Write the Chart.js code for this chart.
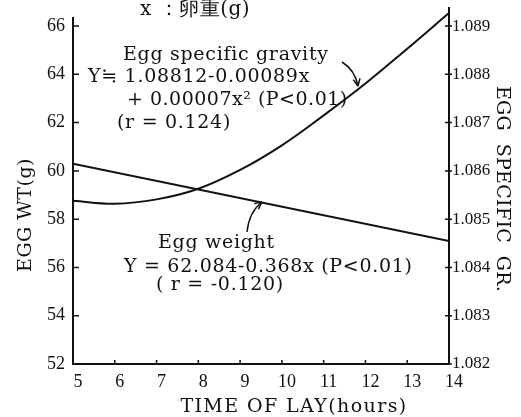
<!DOCTYPE html>
<html>
<head>
<meta charset="utf-8">
<script src="https://cdn.jsdelivr.net/npm/chart.js@4"></script>
<style>
  html, body { margin: 0; padding: 0; background: #fff; }
  canvas { display: block; }
</style>
</head>
<body>
<canvas id="chart" width="521" height="417"></canvas>
<script>
// ----------------- DATA -----------------

const hours = [5, 6, 7, 8, 9, 10, 11, 12, 13, 14];
const gravityValues = [1.08538, 1.08532, 1.08541, 1.08563, 1.08602, 1.08653, 1.08715, 1.08781, 1.08853, 1.08927];

const weightHours = [5, 14];
const weightValues = [60.3, 57.1];

const hourTicks = [5, 6, 7, 8, 9, 10, 11, 12, 13, 14];
const weightTicks = [52, 54, 56, 58, 60, 62, 64, 66];
const gravityTicks = [1.082, 1.083, 1.084, 1.085, 1.086, 1.087, 1.088, 1.089];

const serif = '"DejaVu Serif", "Liberation Serif", serif';
const tickFont = '"Liberation Serif", serif';
const ink = '#111';

// ----------------- DECORATIONS (axis lines, inner ticks, notes) -----------------

function arrowHead(ctx, x, y, angle, size) {
    ctx.beginPath();
    ctx.moveTo(x, y);
    ctx.lineTo(x - size * Math.cos(angle - 0.45), y - size * Math.sin(angle - 0.45));
    ctx.moveTo(x, y);
    ctx.lineTo(x - size * Math.cos(angle + 0.45), y - size * Math.sin(angle + 0.45));
    ctx.stroke();
}

function spaced(ctx, text, x, y, spacing) {
    ctx.letterSpacing = spacing + 'px';
    ctx.fillText(text, x, y);
    ctx.letterSpacing = '0px';
}

const decorations = {
    id: 'decorations',
    afterDraw(chart) {
        const ctx = chart.ctx;
        const area = chart.chartArea;
        const xs = chart.scales.x;
        const yl = chart.scales.yWt;
        const yr = chart.scales.yGr;
        ctx.save();
        ctx.strokeStyle = ink;
        ctx.fillStyle = ink;
        ctx.lineWidth = 2;

        // axis lines
        ctx.beginPath();
        ctx.moveTo(area.left, 17);
        ctx.lineTo(area.left, area.bottom);
        ctx.lineTo(area.right, area.bottom);
        ctx.moveTo(area.right, area.top);
        ctx.lineTo(area.right, area.bottom);
        ctx.stroke();

        // inward tick marks
        ctx.lineWidth = 1.5;
        ctx.beginPath();
        weightTicks.forEach(v => {
            const y = yl.getPixelForValue(v);
            ctx.moveTo(area.left, y);
            ctx.lineTo(area.left + 6, y);
        });
        gravityTicks.forEach(v => {
            const y = yr.getPixelForValue(v);
            ctx.moveTo(area.right - 4, y);
            ctx.lineTo(area.right + 3, y);
        });
        hourTicks.forEach(v => {
            const x = xs.getPixelForValue(v);
            ctx.moveTo(x, area.bottom);
            ctx.lineTo(x, area.bottom - 4);
        });
        ctx.stroke();

        // axis titles
        ctx.font = '19px ' + serif;
        ctx.textAlign = 'center';
        ctx.textBaseline = 'middle';
        ctx.save();
        ctx.translate(26, 215);
        ctx.rotate(-Math.PI / 2);
        spaced(ctx, 'EGG WT(g)', 0, 0, 0.5);
        ctx.restore();
        ctx.save();
        ctx.translate(502, 189);
        ctx.rotate(Math.PI / 2);
        spaced(ctx, 'EGG  SPECIFIC  GR.', 0, 0, 0.3);
        ctx.restore();
        ctx.textBaseline = 'alphabetic';
        spaced(ctx, 'TIME OF LAY(hours)', 294, 412, 1.4);

        // notes
        ctx.textAlign = 'left';
        ctx.font = '20px ' + serif;
        spaced(ctx, 'x \uFF1A\u5375\u91CD(g)', 140, 15, 0.5);
        ctx.font = '19px ' + serif;
        spaced(ctx, 'Egg specific gravity', 123, 60, 0.7);
        spaced(ctx, 'Y\u2252 1.08812-0.00089x', 88, 82, 0.7);
        spaced(ctx, '+ 0.00007x\u00B2 (P<0.01)', 127, 105, 0.5);
        spaced(ctx, '(r = 0.124)', 117, 128, 0.7);
        spaced(ctx, 'Egg weight', 158, 248, 0.7);
        spaced(ctx, 'Y = 62.084-0.368x (P<0.01)', 124, 272, 0.7);
        spaced(ctx, '( r = -0.120)', 156, 290, 0.7);

        // arrows
        ctx.lineWidth = 1.5;
        ctx.beginPath();
        ctx.moveTo(342, 62);
        ctx.quadraticCurveTo(355, 70, 358, 86);
        ctx.stroke();
        arrowHead(ctx, 358, 86, Math.atan2(15, 3), 8);

        ctx.beginPath();
        ctx.moveTo(247, 232);
        ctx.quadraticCurveTo(249, 212, 262, 202);
        ctx.stroke();
        arrowHead(ctx, 262, 202, Math.atan2(-10, 13), 8);

        ctx.restore();
    }
};

// ----------------- CHART -----------------

const ctx_chart = document.getElementById('chart').getContext('2d');
const chart = new Chart(ctx_chart, {
    type: 'line',
    data: {
        datasets: [{
            label: 'Egg specific gravity',
            data: hours.map((h, i) => ({ x: h, y: gravityValues[i] })),
            yAxisID: 'yGr',
            borderColor: ink,
            borderWidth: 2,
            pointRadius: 0,
            tension: 0.4,
            fill: false
        }, {
            label: 'Egg weight',
            data: weightHours.map((h, i) => ({ x: h, y: weightValues[i] })),
            yAxisID: 'yWt',
            borderColor: ink,
            borderWidth: 2,
            pointRadius: 0,
            fill: false
        }]
    },
    options: {
        responsive: false,
        animation: false,
        layout: { padding: { top: 7, right: 0, left: 0, bottom: 0 } },
        plugins: {
            legend: { display: false },
            tooltip: { enabled: false }
        },
        scales: {
            x: {
                type: 'linear',
                position: 'bottom',
                min: 5,
                max: 14,
                afterBuildTicks: s => { s.ticks = hourTicks.map(v => ({ value: v })); },
                afterFit: s => { s.height = 53; s.paddingLeft = 0; s.paddingRight = 0; },
                grid: { display: false, drawTicks: false },
                border: { display: false },
                ticks: {
                    color: ink,
                    padding: 7,
                    labelOffset: 5,
                    maxRotation: 0,
                    autoSkip: false,
                    font: { family: tickFont, size: 18 }
                }
            },
            yWt: {
                type: 'linear',
                position: 'left',
                min: 52,
                max: 66.79,
                afterBuildTicks: s => { s.ticks = weightTicks.map(v => ({ value: v })); },
                afterFit: s => { s.width = 73; s.paddingTop = 0; s.paddingBottom = 0; },
                grid: { display: false, drawTicks: false },
                border: { display: false },
                ticks: {
                    color: ink,
                    padding: 8,
                    font: { family: tickFont, size: 18 }
                }
            },
            yGr: {
                type: 'linear',
                position: 'right',
                min: 1.082,
                max: 1.089395,
                afterBuildTicks: s => { s.ticks = gravityTicks.map(v => ({ value: v })); },
                afterFit: s => { s.width = 72; s.paddingTop = 0; s.paddingBottom = 0; },
                grid: { display: false, drawTicks: false },
                border: { display: false },
                ticks: {
                    color: ink,
                    padding: 3,
                    callback: v => v.toFixed(3),
                    font: { family: tickFont, size: 17 }
                }
            }
        }
    },
    plugins: [decorations]
});
</script>
</body>
</html>
